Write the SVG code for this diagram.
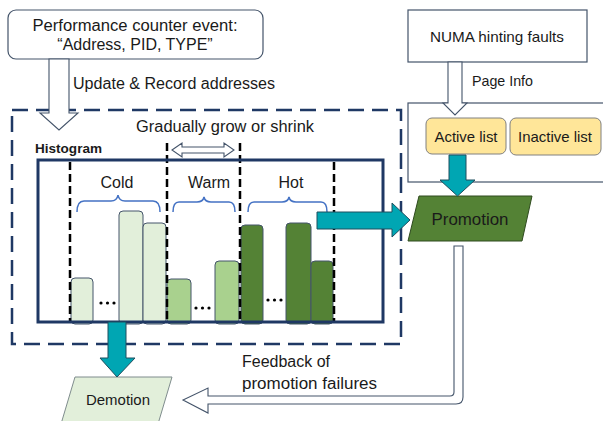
<svg xmlns="http://www.w3.org/2000/svg" width="603" height="421" viewBox="0 0 603 421">
<style>
text{font-family:"Liberation Sans",Arial,sans-serif;fill:#1a1a1a;}
.t16{font-size:16px;}
.t15{font-size:15px;}
.t14{font-size:14px;}
.box{fill:#fff;stroke:#44546a;stroke-width:1.2;}
.hollow{fill:#fff;stroke:#44546a;stroke-width:1.1;stroke-linejoin:miter;}
.teal{fill:#00a6b3;stroke:#1f4e5f;stroke-width:1;}
.bar{stroke:#44546a;stroke-width:1;}
.cold{fill:#e2efda;}
.warm{fill:#a9d18e;}
.hot{fill:#548235;}
.vdash{stroke:#000;stroke-width:2.5;stroke-dasharray:8 4;fill:none;}
.brace{fill:none;stroke:#4472c4;stroke-width:1.5;}
.yellow{fill:#ffe699;stroke:#808080;stroke-width:1;}
</style>

<g id="perf-event">
  <rect class="box" x="8" y="10" width="255" height="49" rx="8"/>
  <text class="t16" x="135" y="31" text-anchor="middle" textLength="205" lengthAdjust="spacingAndGlyphs">Performance counter event:</text>
  <text class="t16" x="135" y="50" text-anchor="middle">“Address, PID, TYPE”</text>
</g>

<g id="numa">
  <rect class="box" x="408" y="10" width="179" height="52"/>
  <text class="t15" x="497" y="42" text-anchor="middle" textLength="134" lengthAdjust="spacingAndGlyphs">NUMA hinting faults</text>
</g>

<g id="lists-panel">
  <rect class="box" x="408" y="103" width="210" height="79"/>
</g>

<g id="sampling-region">
  <rect x="12" y="110" width="389" height="234" fill="none" stroke="#1f3864" stroke-width="2.5" stroke-dasharray="16 8"/>
  <text class="t16" x="225" y="132" text-anchor="middle" textLength="178" lengthAdjust="spacingAndGlyphs">Gradually grow or shrink</text>
</g>

<g id="histogram">
  <text x="35" y="153" font-size="13.5" font-weight="bold" textLength="67" lengthAdjust="spacingAndGlyphs">Histogram</text>
  <rect x="38" y="160" width="345" height="162" fill="#fff"/>
  <!-- cold bars -->
  <rect class="bar cold" x="71" y="278" width="22" height="46" rx="4"/>
  <rect class="bar cold" x="119" y="211" width="24" height="113" rx="4"/>
  <rect class="bar cold" x="143" y="223" width="23" height="101" rx="4"/>
  <!-- warm bars -->
  <rect class="bar warm" x="167" y="279" width="24" height="45" rx="4"/>
  <rect class="bar warm" x="215" y="261" width="24" height="63" rx="4"/>
  <!-- hot bars -->
  <rect class="bar hot" x="241" y="225" width="22" height="99" rx="4"/>
  <rect class="bar hot" x="286" y="223" width="25" height="101" rx="4"/>
  <rect class="bar hot" x="311" y="261" width="22" height="63" rx="4"/>
  <!-- dots -->
  <g fill="#000">
    <circle cx="101" cy="303" r="1.6"/><circle cx="107.5" cy="303" r="1.6"/><circle cx="114" cy="303" r="1.6"/>
    <circle cx="196" cy="308" r="1.6"/><circle cx="202.5" cy="308" r="1.6"/><circle cx="209" cy="308" r="1.6"/>
    <circle cx="268" cy="300" r="1.6"/><circle cx="274.5" cy="300" r="1.6"/><circle cx="281" cy="300" r="1.6"/>
  </g>
  <!-- dashed separators -->
  <line class="vdash" x1="70" y1="162" x2="70" y2="322"/>
  <line class="vdash" x1="167" y1="143" x2="167" y2="322"/>
  <line class="vdash" x1="240" y1="143" x2="240" y2="322"/>
  <line class="vdash" x1="334" y1="162" x2="334" y2="322"/>
  <rect x="38" y="160" width="345" height="162" fill="none" stroke="#1f3864" stroke-width="3"/>
  <!-- double arrow -->
  <polygon class="hollow" points="172,150 182,143 182,147 224,147 224,143 234,150 224,157 224,153 182,153 182,157"/>
  <!-- braces -->
  <path class="brace" d="M77,212 Q77,201 84,201 L111,201 Q117,201 118,195 Q119,201 125,201 L153,201 Q160,201 160,212"/>
  <path class="brace" d="M173,212 Q173,202 179,202 L197,202 Q203,202 204,197 Q205,202 211,202 L229,202 Q235,202 235,212"/>
  <path class="brace" d="M248,212 Q248,202 254,202 L282,202 Q288,202 289,197 Q290,202 296,202 L321,202 Q327,202 327,212"/>
  <text class="t16" x="117" y="188" text-anchor="middle">Cold</text>
  <text class="t16" x="209" y="188" text-anchor="middle">Warm</text>
  <text class="t16" x="291" y="188" text-anchor="middle">Hot</text>
</g>

<g id="active-list">
  <rect class="yellow" x="426" y="118" width="80" height="36" rx="6"/>
  <text class="t15" x="466" y="142" text-anchor="middle" textLength="63" lengthAdjust="spacingAndGlyphs">Active list</text>
</g>
<g id="inactive-list">
  <rect class="yellow" x="510" y="118" width="91" height="37" rx="6"/>
  <text class="t15" x="555" y="142" text-anchor="middle" textLength="74" lengthAdjust="spacingAndGlyphs">Inactive list</text>
</g>

<g id="promotion">
  <polygon points="419,196 532,196 522,241 408,241" fill="#548235" stroke="#2e4a1e" stroke-width="1"/>
  <text class="t16" x="470" y="225" text-anchor="middle" textLength="77" lengthAdjust="spacingAndGlyphs">Promotion</text>
</g>

<g id="demotion">
  <polygon points="75,377 172,377 158,424 61,424" fill="#e2efda" stroke="#7f8c8d" stroke-width="1"/>
  <text class="t14" x="118" y="405" text-anchor="middle" textLength="64" lengthAdjust="spacingAndGlyphs">Demotion</text>
</g>

<g id="connectors">
  <polygon class="hollow" stroke="#1f3864" points="49,59 69,59 69,113 78,113 59,130 40,113 49,113"/>
  <text class="t16" x="73" y="89" textLength="202" lengthAdjust="spacingAndGlyphs">Update &amp; Record addresses</text>
  <polygon class="hollow" points="448,62 462,62 462,103 467,103 455,115 443,103 448,103"/>
  <text class="t15" x="472" y="86" textLength="61" lengthAdjust="spacingAndGlyphs">Page Info</text>
  <polygon class="teal" points="449,155 466,155 466,180 475,180 457.5,196 440,180 449,180"/>
  <polygon class="teal" points="317,212 392,212 392,203 410,220 392,237 392,229 317,229"/>
  <polygon class="teal" points="108,322 126,322 126,358 135,358 117,377 100,358 108,358"/>
  <path class="hollow" d="M454,246 L463,246 L463,397 Q463,404 456,404 L208,404 L208,413 L183,400 L208,388 L208,396 L450,396 Q454,396 454,392 Z"/>
  <text class="t16" x="242" y="367" textLength="88" lengthAdjust="spacingAndGlyphs">Feedback of</text>
  <text class="t16" x="242" y="389" textLength="135" lengthAdjust="spacingAndGlyphs">promotion failures</text>
</g>
</svg>
